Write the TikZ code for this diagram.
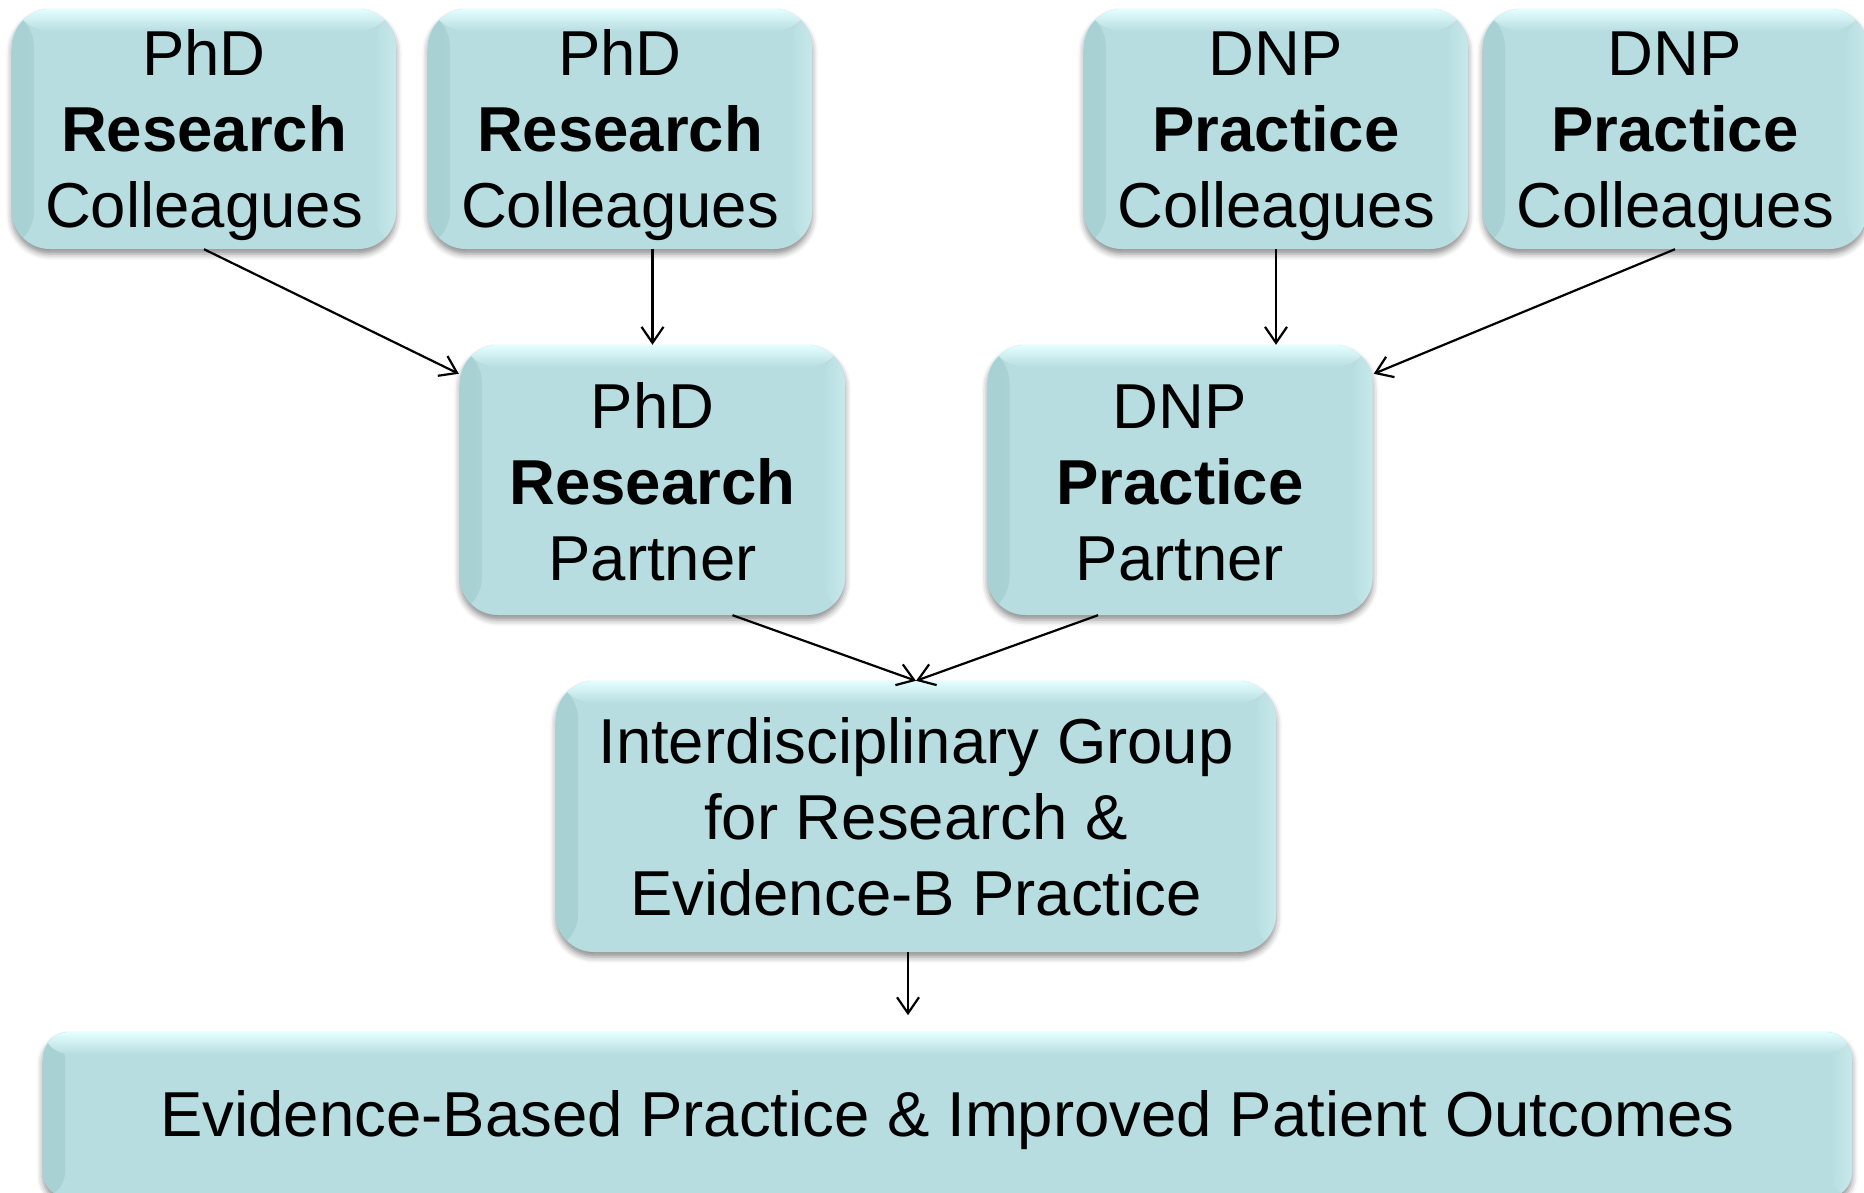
\documentclass[tikz,border=0pt]{standalone}
\usepackage{fontspec}
\setmainfont{Liberation Sans}
\usetikzlibrary{arrows.meta,calc,shadows.blur}

\definecolor{boxbase}{RGB}{184,221,224}
\definecolor{boxlight}{RGB}{228,255,255}
\definecolor{boxedge}{RGB}{168,209,212}
\definecolor{boxrim}{RGB}{198,233,235}

% invisible strut that sets the height of a card's first line
\newcommand\cardlead[1]{\rule{0pt}{#1}}

\tikzset{
  card/.style={
    rounded corners=38pt, fill=boxbase, inner sep=0pt, align=center,
    font=\fontsize{63.5}{76}\selectfont,
    blur shadow={shadow xshift=0pt, shadow yshift=-5pt,
                 shadow blur radius=6pt, shadow opacity=45},
    path picture={
      \shade[left color=boxedge, right color=boxbase]
        (path picture bounding box.south west) rectangle
        ([xshift=22pt]path picture bounding box.north west);
      \shade[left color=boxbase, right color=boxrim]
        ([xshift=-22pt]path picture bounding box.south east) rectangle
        (path picture bounding box.north east);
      \shade[top color=boxlight, bottom color=boxbase]
        (path picture bounding box.north west) rectangle
        ([yshift=-22pt]path picture bounding box.north east);
    }},
  arr/.style={-{Straight Barb[length=16pt,width=22pt,line width=2.2pt]},
              line width=2.2pt},
}

\begin{document}
\begin{tikzpicture}[x=1pt,y=-1pt]
  \useasboundingbox (0,0) rectangle (1864,1192);

  % top row: colleagues
  \node[card, minimum width=384pt, minimum height=240pt] (c1) at (204,129)
    {\cardlead{58pt}PhD\\\textbf{Research}\\Colleagues};
  \node[card, minimum width=384pt, minimum height=240pt] (c2) at (620,129)
    {\cardlead{58pt}PhD\\\textbf{Research}\\Colleagues};
  \node[card, minimum width=384pt, minimum height=240pt] (c3) at (1276,129)
    {\cardlead{58pt}DNP\\\textbf{Practice}\\Colleagues};
  \node[card, minimum width=384pt, minimum height=240pt] (c4) at (1675,129)
    {\cardlead{58pt}DNP\\\textbf{Practice}\\Colleagues};

  % middle row: partners
  \node[card, minimum width=385pt, minimum height=270pt] (p1) at (652.5,480)
    {\cardlead{50pt}PhD\\\textbf{Research}\\Partner};
  \node[card, minimum width=385pt, minimum height=270pt] (p2) at (1180,480)
    {\cardlead{50pt}DNP\\\textbf{Practice}\\Partner};

  % joint group
  \node[card, minimum width=720pt, minimum height=271pt] (ig) at (916,816.5)
    {Interdisciplinary Group\\for Research \&\\Evidence-B Practice};

  % outcome bar
  \node[card, rounded corners=26pt, minimum width=1809pt, minimum height=166pt]
    (ev) at (947.5,1115)
    {\cardlead{56pt}Evidence-Based Practice \& Improved Patient Outcomes};

  % connectors
  \draw[arr] (c1.south) -- ($(p1.north west)+(-1,29)$);
  \draw[arr] (c2.south -| p1.north) -- (p1.north);
  \draw[arr] (c3.south) -- (c3.south |- p2.north);
  \draw[arr] (c4.south) -- ($(p2.north east)+(1,29)$);
  \draw[arr] ($(p1.south)+(80,0)$) -- (ig.north);
  \draw[arr] ($(p2.south)+(-82,0)$) -- (ig.north);
  \coordinate (evin) at ($(ig.south)+(-8,63)$);
  \draw[arr] ($(ig.south)+(-8,0)$) -- (evin);
\end{tikzpicture}
\end{document}
